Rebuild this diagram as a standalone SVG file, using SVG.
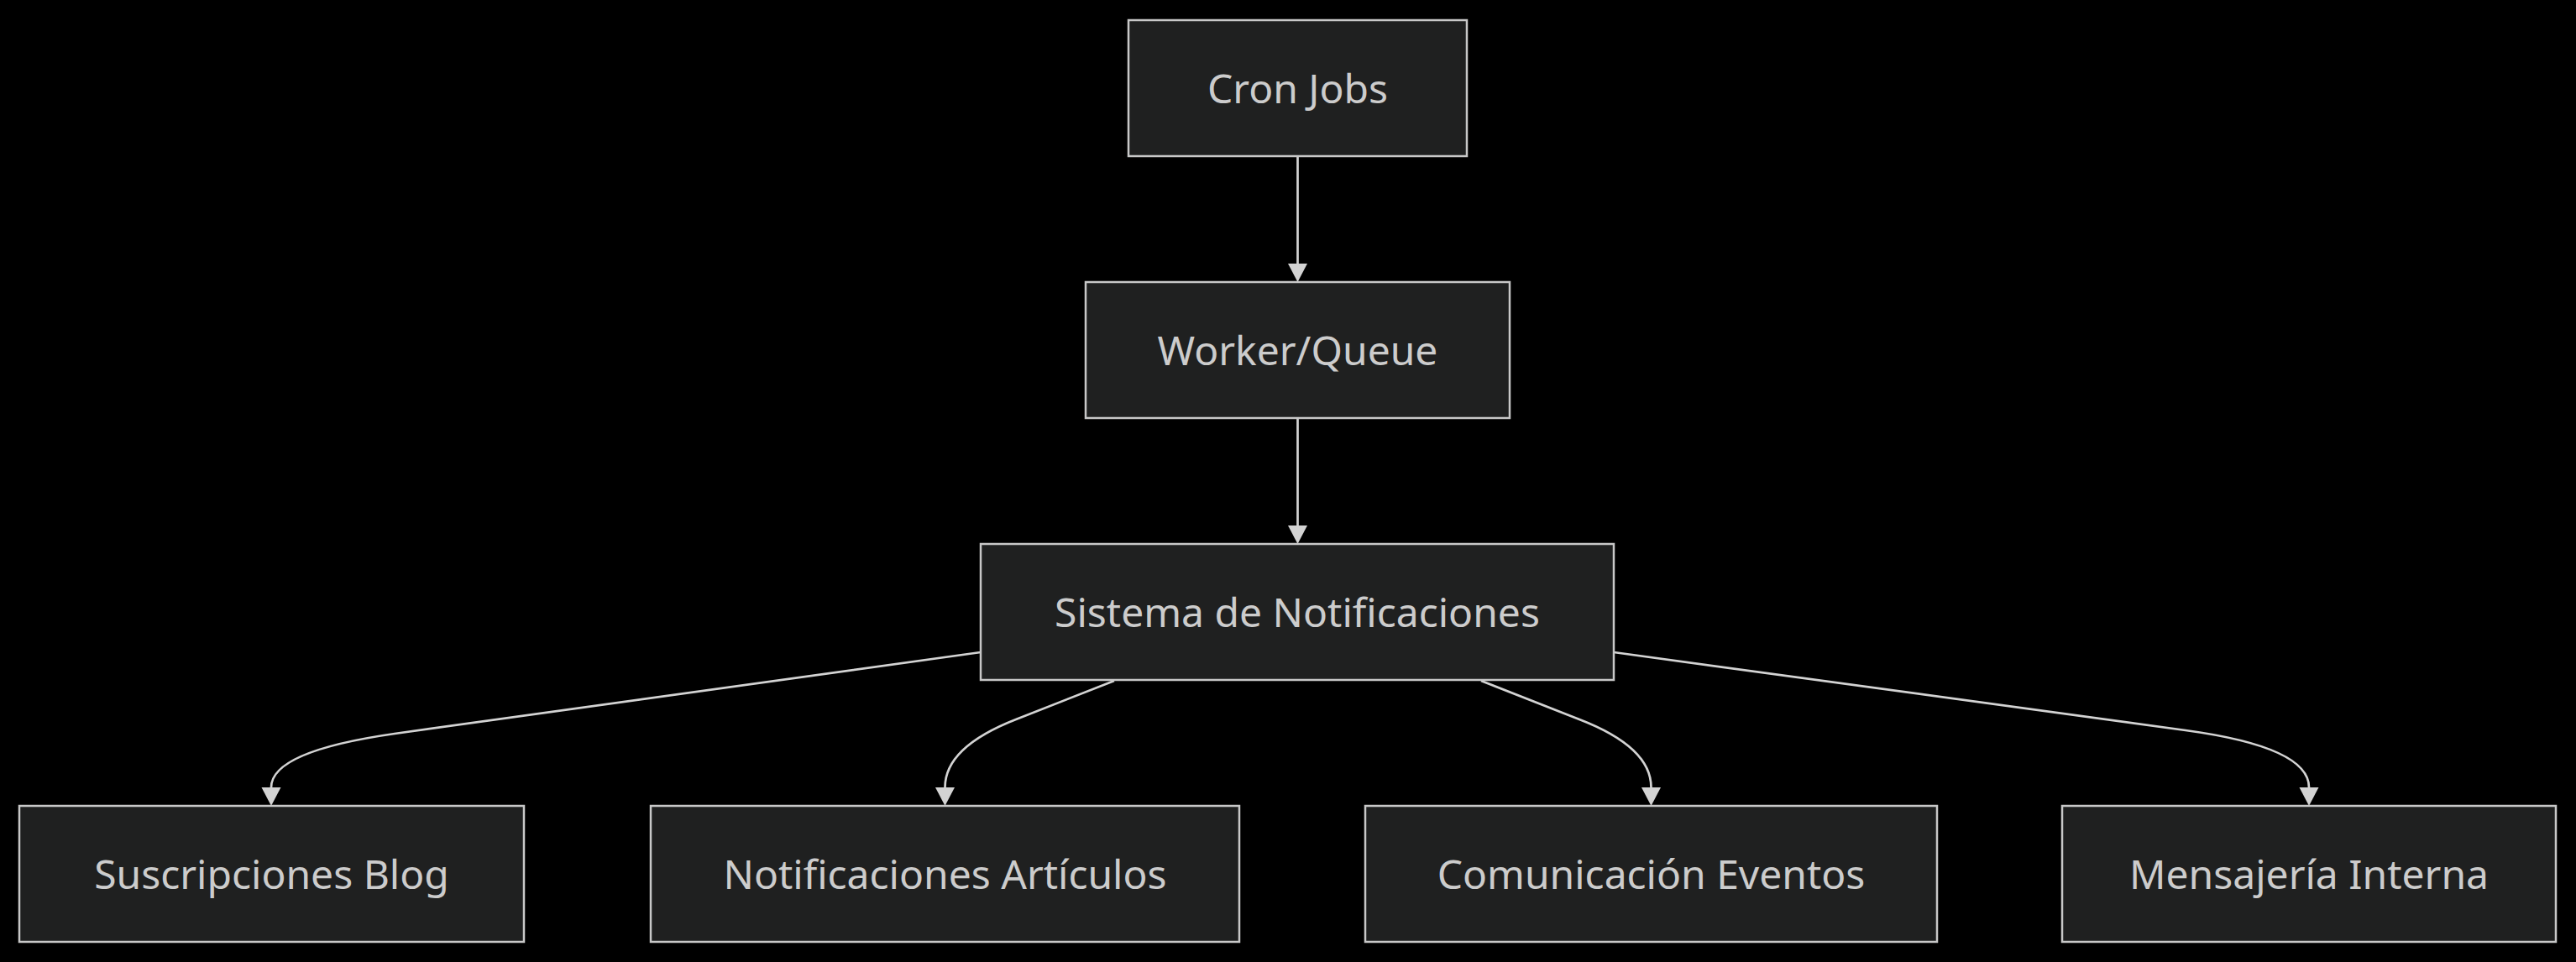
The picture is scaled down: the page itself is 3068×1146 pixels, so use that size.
<svg xmlns="http://www.w3.org/2000/svg" width="3068" height="1146" viewBox="0 0 3068 1146">
<style>
.node rect{fill:#1f2020;stroke:#c8c8c8;stroke-width:2.5}
.node text{fill:#cccccc;font-family:"Noto Sans","Open Sans",sans-serif;font-size:48px;text-anchor:middle}
.edge{fill:none;stroke:#d3d3d3;stroke-width:2.7}
</style>
<defs>
<marker id="arrow" markerUnits="userSpaceOnUse" markerWidth="23" markerHeight="24" refX="0" refY="11.5" orient="auto" viewBox="0 0 23 23">
<path d="M0,0 L22,11.5 L0,23 Z" fill="#d3d3d3"/>
</marker>
</defs>
<rect x="0" y="0" width="3068" height="1146" fill="#000000"/>
<g id="connectors">
<path class="edge" d="M1545.5,187 L1545.5,314" marker-end="url(#arrow)"/>
<path class="edge" d="M1545.5,499 L1545.5,626" marker-end="url(#arrow)"/>
<path class="edge" d="M1168,777 L470,874 Q323,895 323,938" marker-end="url(#arrow)"/>
<path class="edge" d="M1327,811 L1210,857 Q1125.5,890 1125.5,938" marker-end="url(#arrow)"/>
<path class="edge" d="M1764,811 L1881,857 Q1966.5,890 1966.5,938" marker-end="url(#arrow)"/>
<path class="edge" d="M1922,777 L2603,870 Q2750,890 2750,938" marker-end="url(#arrow)"/>
</g>
<g id="cron" class="node"><rect x="1344" y="24" width="403" height="162"/><text x="1545.5" y="123">Cron Jobs</text></g>
<g id="worker" class="node"><rect x="1293" y="336" width="505" height="162"/><text x="1545.5" y="435">Worker/Queue</text></g>
<g id="sistema" class="node"><rect x="1168" y="648" width="754" height="162"/><text x="1545" y="747">Sistema de Notificaciones</text></g>
<g id="suscripciones" class="node"><rect x="23" y="960" width="601" height="162"/><text x="323.5" y="1059">Suscripciones Blog</text></g>
<g id="articulos" class="node"><rect x="775" y="960" width="701" height="162"/><text x="1125.5" y="1059">Notificaciones Artículos</text></g>
<g id="eventos" class="node"><rect x="1626" y="960" width="681" height="162"/><text x="1966.5" y="1059">Comunicación Eventos</text></g>
<g id="mensajeria" class="node"><rect x="2456" y="960" width="588" height="162"/><text x="2750" y="1059">Mensajería Interna</text></g>
</svg>
